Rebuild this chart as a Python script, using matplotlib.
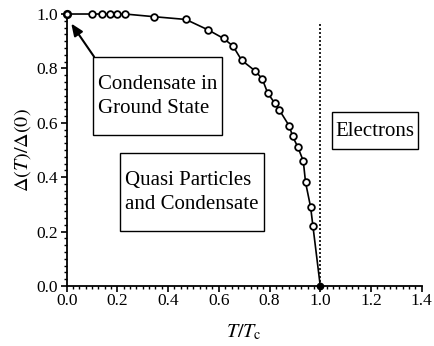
import matplotlib
matplotlib.use("Agg")
import matplotlib.pyplot as plt
from matplotlib.ticker import MultipleLocator, FormatStrFormatter
from matplotlib.patches import Rectangle

plt.rcParams['font.family'] = ['Liberation Serif', 'DejaVu Serif']
plt.rcParams['mathtext.fontset'] = 'stix'

t = [0.0, 0.10, 0.14, 0.17, 0.20, 0.23, 0.346, 0.47, 0.559, 0.619, 0.656, 0.69,
     0.743, 0.771, 0.792, 0.821, 0.838, 0.878, 0.891, 0.911, 0.933, 0.942,
     0.962, 0.971, 1.0]
gap = [1.0, 1.0, 1.0, 1.0, 1.0, 1.0, 0.99, 0.98, 0.941, 0.91, 0.882, 0.83,
       0.791, 0.762, 0.711, 0.671, 0.648, 0.588, 0.55, 0.512, 0.46, 0.381,
       0.29, 0.221, 0.0]

xticks = [0.0, 0.2, 0.4, 0.6, 0.8, 1.0, 1.2, 1.4]
yticks = [0.0, 0.2, 0.4, 0.6, 0.8, 1.0]

fig = plt.figure(figsize=(4.35, 3.46), dpi=100)
ax = fig.add_axes([0.1533, 0.1734, 0.8161, 0.7861])

ax.plot(t, gap, '-', color='black', lw=1.2, clip_on=False, zorder=3)
ax.plot(t[1:-1], gap[1:-1], 'o', mfc='white', mec='black', mew=1.3, ms=4.8,
        clip_on=False, zorder=4)
ax.plot([t[0]], [gap[0]], 'o', mfc='white', mec='black', mew=1.8, ms=4.8,
        clip_on=False, zorder=4)
ax.plot([t[-1]], [gap[-1]], 'o', mfc='black', mec='black', ms=4.5,
        clip_on=False, zorder=4)

ax.plot([1.0, 1.0], [0.0, 0.972], color='black', lw=1.2, ls=(0, (1.2, 1.2)), zorder=2)

ax.set_xlim(0, 1.4)
ax.set_ylim(0, 1.0)
ax.set_xticks(xticks)
ax.set_yticks(yticks)
ax.xaxis.set_major_formatter(FormatStrFormatter('%.1f'))
ax.yaxis.set_major_formatter(FormatStrFormatter('%.1f'))
ax.xaxis.set_minor_locator(MultipleLocator(0.025))
ax.yaxis.set_minor_locator(MultipleLocator(0.025))
ax.tick_params(which='major', direction='out', length=4, width=1.2, labelsize=12.5)
ax.tick_params(axis='x', which='major', pad=1)
ax.tick_params(axis='y', which='major', pad=2)
ax.tick_params(which='minor', direction='out', length=2.2, width=1.0)
for s in ['top', 'right']:
    ax.spines[s].set_visible(False)
for s in ['left', 'bottom']:
    ax.spines[s].set_linewidth(1.3)

ax.set_xlabel(r'$T/T_{\mathrm{c}}$', fontsize=14.5, labelpad=10)
ax.set_ylabel(r'$\Delta(T)/\Delta(0)$', fontsize=14.5, labelpad=3)

def framed(x0, x1, y0, y1):
    ax.add_patch(Rectangle((x0, y0), x1 - x0, y1 - y0, fc='white', ec='black',
                           lw=1.0, zorder=5))

framed(0.104, 0.612, 0.555, 0.843)
ax.text(0.122, 0.697, 'Condensate in\nGround State', fontsize=15, va='center', ha='left',
        linespacing=1.4, zorder=6)
framed(0.211, 0.778, 0.202, 0.490)
ax.text(0.228, 0.344, 'Quasi Particles\nand Condensate', fontsize=15, va='center', ha='left',
        linespacing=1.4, zorder=6)
framed(1.048, 1.385, 0.504, 0.639)
ax.text(1.058, 0.569, 'Electrons', fontsize=15, va='center', ha='left', zorder=6)

ax.annotate('', xy=(0.018, 0.965), xytext=(0.108, 0.843),
            arrowprops=dict(arrowstyle='-|>,head_length=0.6,head_width=0.25',
                            color='black', lw=1.5,
                            mutation_scale=12, shrinkA=0, shrinkB=0), zorder=5)

fig.savefig('out.png', dpi=100)
